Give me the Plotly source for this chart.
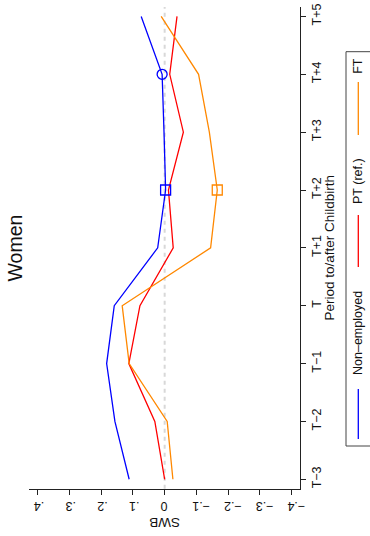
import plotly.graph_objects as go

# Period relative to childbirth (T = birth year)
periods = [-3, -2, -1, 0, 1, 2, 3, 4, 5]
period_labels = ["T−3", "T−2", "T−1", "T", "T+1", "T+2", "T+3", "T+4", "T+5"]

# Subjective well-being effects by employment status
swb_nonemployed = [0.112, 0.157, 0.183, 0.159, 0.022, -0.003, 0.002, 0.008, 0.074]
swb_pt = [0.000, 0.031, 0.113, 0.078, -0.027, -0.012, -0.059, -0.016, -0.039]
swb_ft = [-0.026, -0.008, 0.112, 0.134, -0.145, -0.166, -0.141, -0.107, 0.011]

swb_ticks = [0.4, 0.3, 0.2, 0.1, 0, -0.1, -0.2, -0.3, -0.4]
swb_ticktext = [".4", ".3", ".2", ".1", "0", "−.1", "−.2", "−.3", "−.4"]

# Highlighted (significant) points: (series values, period index, symbol)
highlights = [
    (swb_nonemployed, 5, "square-open", "#0000ff"),
    (swb_nonemployed, 7, "circle-open", "#0000ff"),
    (swb_ft, 5, "square-open", "#ff8800"),
]

W, H = 370, 536
FONT = "Liberation Sans, Arial, Helvetica, sans-serif"

# plot box in pixels
px_l, px_r, px_t, px_b = 29, 300, 7, 488.7


def fx(px):
    return px / W


def fy(py):
    return 1 - py / H


series = [
    ("Non–employed", swb_nonemployed, "#0000ff"),
    ("PT (ref.)", swb_pt, "#ff0000"),
    ("FT", swb_ft, "#ff8800"),
]

fig = go.Figure()

for name, vals, col in series:
    fig.add_trace(go.Scatter(
        x=vals, y=periods, mode="lines", name=name,
        line=dict(color=col, width=1.3), showlegend=False,
        hoverinfo="skip",
    ))

for vals, idx, sym, col in highlights:
    fig.add_trace(go.Scatter(
        x=[vals[idx]], y=[periods[idx]], mode="markers",
        marker=dict(symbol=sym, size=10, color=col, line=dict(color=col, width=1.3)),
        showlegend=False, hoverinfo="skip",
    ))

# zero reference line
fig.add_shape(type="line", xref="x", yref="y domain", x0=0, x1=0, y0=0, y1=1,
              line=dict(color="#d8d8d8", width=2, dash="4px,4px"), layer="below")

fig.update_layout(
    width=W, height=H,
    margin=dict(l=0, r=0, t=0, b=0),
    paper_bgcolor="white", plot_bgcolor="white",
    font=dict(family=FONT, size=12, color="#111"),
    showlegend=False,
    xaxis=dict(
        domain=[fx(px_l), fx(px_r)],
        range=[0.428, -0.427],
        tickvals=swb_ticks, ticktext=swb_ticktext,
        tickangle=180,
        ticklabelshift=4, ticklabelstandoff=5,
        ticks="outside", ticklen=5, tickwidth=1, tickcolor="#222",
        showline=True, linecolor="#222", linewidth=1,
        showgrid=False, zeroline=False, automargin=False,
        tickfont=dict(size=12.5),
    ),
    yaxis=dict(
        domain=[fy(px_b), fy(px_t)],
        range=[-3.163, 5.163],
        side="right", anchor="x", position=1,
        tickvals=periods, ticktext=period_labels,
        tickangle=-90,
        ticks="outside", ticklen=5, tickwidth=1, tickcolor="#222",
        showline=True, linecolor="#222", linewidth=1,
        showgrid=False, zeroline=False, automargin=False,
        tickfont=dict(size=12.5),
    ),
)

ann = []
# chart title
ann.append(dict(text="Women", x=fx(14.5), y=fy(248), xref="paper", yref="paper",
                textangle=-90, showarrow=False, font=dict(size=19.5),
                xanchor="center", yanchor="middle"))
# axis titles
ann.append(dict(text="Period to/after Childbirth", x=fx(328.5), y=fy(248),
                xref="paper", yref="paper", textangle=-90, showarrow=False,
                font=dict(size=13.5), xanchor="center", yanchor="middle"))
ann.append(dict(text="SWB", x=fx(164.5), y=fy(522.5), xref="paper", yref="paper",
                textangle=180, showarrow=False, font=dict(size=13.5),
                xanchor="center", yanchor="middle"))

# legend box with keys (rotated layout)
fig.add_shape(type="rect", xref="paper", yref="paper",
              x0=fx(346), x1=fx(385), y0=fy(446), y1=fy(51.7),
              line=dict(color="#444", width=1), fillcolor="rgba(0,0,0,0)")
legend_items = [
    ("FT", "#ff8800", 65.8, (82, 135)),
    ("PT (ref.)", "#ff0000", 181, (215, 267)),
    ("Non–employed", "#0000ff", 333, (389, 439)),
]
for label, col, ty, (l0, l1) in legend_items:
    fig.add_shape(type="line", xref="paper", yref="paper",
                  x0=fx(358.3), x1=fx(358.3), y0=fy(l0), y1=fy(l1),
                  line=dict(color=col, width=1.3))
    ann.append(dict(text=label, x=fx(358), y=fy(ty), xref="paper", yref="paper",
                    textangle=-90, showarrow=False, font=dict(size=12.5),
                    xanchor="center", yanchor="middle"))

fig.update_layout(annotations=ann)

fig.write_html("out.html")
